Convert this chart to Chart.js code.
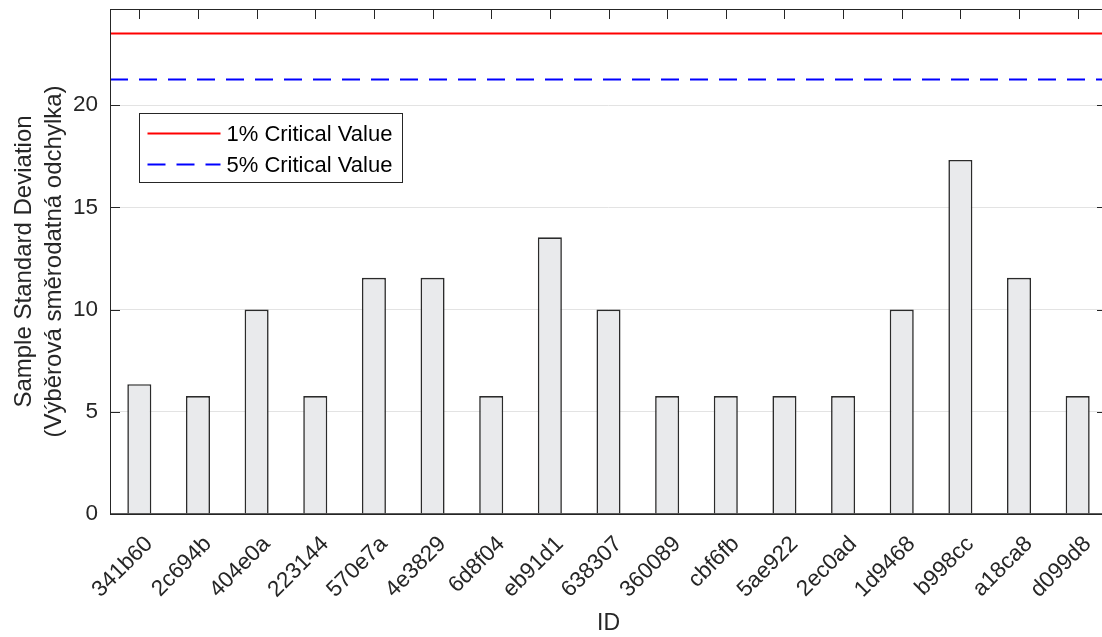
<!DOCTYPE html>
<html>
<head>
<meta charset="utf-8">
<script src="https://cdn.jsdelivr.net/npm/chart.js@4"></script>
<style>
    html, body { margin: 0; padding: 0; background: #fff; overflow: hidden; }
    #wrap { width: 1108px; height: 637px; }
</style>
</head>
<body>
<div id="wrap"><canvas id="myChart"></canvas></div>
<script>
// sample IDs and their standard deviations
var ids = ['341b60', '2c694b', '404e0a', '223144', '570e7a', '4e3829', '6d8f04', 'eb91d1', '638307',
    '360089', 'cbf6fb', '5ae922', '2ec0ad', '1d9468', 'b998cc', 'a18ca8', 'd099d8'];
var stdDev = [6.35, 5.77, 10.0, 5.77, 11.55, 11.55, 5.77, 13.53, 10.0,
    5.77, 5.77, 5.77, 5.77, 10.0, 17.32, 11.55, 5.77];

// critical values (horizontal reference lines)
var critLabels = ['1% Critical Value', '5% Critical Value'];
var critValues = [23.54, 21.3];

var yMax = 24.7;
var yStep = 5;

var axisColor = '#262626';
var fontFamily = '"Liberation Sans", Arial, Helvetica, sans-serif';
var critStyle = [
    { color: '#ff0000', dash: [] },
    { color: '#0000ff', dash: [18, 11] }
];

// draws the matlab-like box, ticks, reference lines and legend
var matlabAxes = {
    id: 'matlabAxes',
    afterDatasetsDraw(chart) {
        var ctx = chart.ctx;
        var a = chart.chartArea;
        var x = chart.scales.x;
        var y = chart.scales.y;

        ctx.save();
        ctx.lineWidth = 2;
        critValues.forEach((v, i) => {
            var py = Math.round(y.getPixelForValue(v)) + 0.5;
            ctx.strokeStyle = critStyle[i].color;
            ctx.setLineDash(critStyle[i].dash);
            ctx.beginPath();
            ctx.moveTo(a.left, py);
            ctx.lineTo(a.right, py);
            ctx.stroke();
        });
        ctx.setLineDash([]);

        // box
        ctx.strokeStyle = axisColor;
        ctx.lineWidth = 1;
        ctx.strokeRect(a.left + 0.5, a.top + 0.5, a.right - a.left - 1, a.bottom - a.top);
        ctx.lineWidth = 1.5;
        ctx.beginPath();
        ctx.moveTo(a.left, a.bottom);
        ctx.lineTo(a.right, a.bottom);
        ctx.stroke();

        // ticks
        ctx.lineWidth = 1;
        ctx.beginPath();
        ids.forEach((id, i) => {
            var px = Math.round(x.getPixelForValue(i)) + 0.5;
            ctx.moveTo(px, a.top);
            ctx.lineTo(px, a.top + 10);
        });
        y.ticks.forEach(t => {
            var py = Math.round(y.getPixelForValue(t.value)) + 0.5;
            ctx.moveTo(a.left, py);
            ctx.lineTo(a.left + 10, py);
            ctx.moveTo(a.right, py);
            ctx.lineTo(a.right - 10, py);
        });
        ctx.stroke();

        // legend
        var lx = a.left + 29.5, ly = a.top + 104.5, lw = 263, lh = 69;
        ctx.fillStyle = '#fff';
        ctx.fillRect(lx, ly, lw, lh);
        ctx.strokeStyle = axisColor;
        ctx.lineWidth = 1;
        ctx.strokeRect(lx, ly, lw, lh);
        ctx.font = '22px ' + fontFamily;
        ctx.textBaseline = 'middle';
        ctx.textAlign = 'left';
        critLabels.forEach((label, i) => {
            var ry = ly + 20 + i * 31;
            ctx.strokeStyle = critStyle[i].color;
            ctx.lineWidth = 2;
            ctx.setLineDash(critStyle[i].dash);
            ctx.beginPath();
            ctx.moveTo(lx + 8, ry);
            ctx.lineTo(lx + 81, ry);
            ctx.stroke();
            ctx.fillStyle = '#000';
            ctx.fillText(label, lx + 87, ry + 1);
        });
        ctx.restore();
    }
};

createChart();

function createChart() {
    const config = {
        type: 'bar',
        data: {
            labels: ids,
            datasets: [
                {
                    label: 'Sample Standard Deviation',
                    data: stdDev,
                    backgroundColor: '#e9eaec',
                    borderColor: '#2b2b2b',
                    borderWidth: 1.6,
                    borderSkipped: 'bottom',
                    categoryPercentage: 0.41,
                    barPercentage: 1
                }
            ]
        },
        options: {
            responsive: true,
            maintainAspectRatio: false,
            animation: false,
            layout: { padding: { top: 9, right: 1, left: 0, bottom: 0 } },
            plugins: {
                legend: { display: false },
                tooltip: { enabled: false }
            },
            scales: {
                x: {
                    grid: { display: false },
                    border: { display: false },
                    ticks: {
                        color: axisColor,
                        font: { family: fontFamily, size: 22.5 },
                        minRotation: 45,
                        maxRotation: 45,
                        autoSkip: false,
                        padding: 9,
                        labelOffset: 10
                    },
                    title: {
                        display: true,
                        text: 'ID',
                        color: axisColor,
                        font: { family: fontFamily, size: 23 },
                        padding: { top: 0, bottom: 0 }
                    },
                    afterFit(scale) {
                        scale.height = 123;
                        scale.paddingLeft = 0;
                        scale.paddingRight = 0;
                    }
                },
                y: {
                    min: 0,
                    max: yMax,
                    grid: { color: '#e3e3e3', drawTicks: false },
                    border: { display: false },
                    ticks: {
                        stepSize: yStep,
                        color: axisColor,
                        font: { family: fontFamily, size: 22.5 },
                        padding: 12
                    },
                    afterBuildTicks(scale) {
                        scale.ticks = scale.ticks.filter(t => t.value % yStep === 0);
                    },
                    title: {
                        display: true,
                        text: ['Sample Standard Deviation', '(Výběrová směrodatná odchylka)'],
                        color: axisColor,
                        font: { family: fontFamily, size: 24, lineHeight: 1.25 },
                        padding: { top: 9, bottom: 0 }
                    },
                    afterFit(scale) {
                        scale.width = 110;
                        scale.paddingTop = 0;
                        scale.paddingBottom = 0;
                    }
                }
            }
        },
        plugins: [matlabAxes]
    };

    var myChart = new Chart(
        document.getElementById('myChart'),
        config
    );
}
</script>
</body>
</html>
